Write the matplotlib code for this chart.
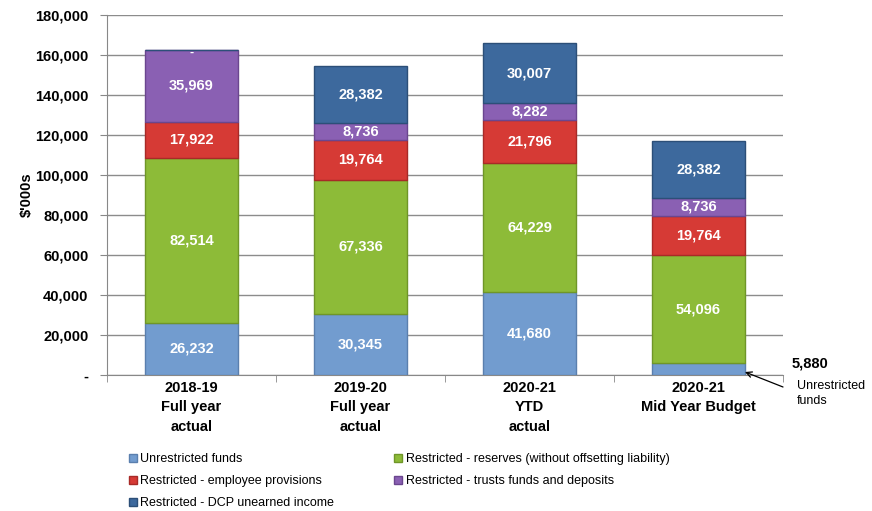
import matplotlib
matplotlib.use("Agg")
import matplotlib.pyplot as plt
import numpy as np

plt.rcParams['font.family'] = ['Liberation Sans', 'DejaVu Sans']

categories = ["2018-19\nFull year\nactual", "2019-20\nFull year\nactual",
              "2020-21\nYTD\nactual", "2020-21\nMid Year Budget"]
unrestricted = [26232, 30345, 41680, 5880]
reserves = [82514, 67336, 64229, 54096]
employee = [17922, 19764, 21796, 19764]
trusts = [35969, 8736, 8282, 8736]
dcp = [0, 28382, 30007, 28382]

series_names = ["Unrestricted funds",
                "Restricted - reserves (without offsetting liability)",
                "Restricted - employee provisions",
                "Restricted - trusts funds and deposits",
                "Restricted - DCP unearned income"]
series = [unrestricted, reserves, employee, trusts, dcp]
colors = ["#729CCF", "#8DBB38", "#D63A35", "#8A60B3", "#3D699D"]
edges = ["#5A7FAE", "#6F9628", "#A82A27", "#6B468F", "#2C4F78"]

fig = plt.figure(figsize=(8.72, 5.11), dpi=100)
ax = fig.add_axes([107/872, 1-375/511, 676/872, 360/511])

x = np.arange(len(categories))
bottom = np.zeros(len(categories))
handles = []
for si, (vals, c, ec, name) in enumerate(zip(series, colors, edges, series_names)):
    vals = np.array(vals, dtype=float)
    b = ax.bar(x, vals, width=0.545, bottom=bottom, color=c, edgecolor=ec,
               linewidth=1.0, label=name, zorder=3)
    handles.append(b)
    for i, v in enumerate(vals):
        if si == 0 and i == 3:
            continue
        yc = bottom[i] + v / 2
        if v == 0:
            ax.text(x[i], bottom[i] - 1500, "-", ha="center", va="center",
                    color="white", fontsize=9, fontweight="bold", zorder=5)
        else:
            ax.text(x[i], yc, f"{int(v):,}", ha="center", va="center",
                    color="white", fontsize=10.5, fontweight="bold", zorder=5)
    bottom += vals

ax.set_xlim(-0.5, len(categories) - 0.5)
ax.set_ylim(0, 180000)
yt = np.arange(0, 180001, 20000)
ax.set_yticks(yt)
ax.set_yticklabels(["-"] + [f"{v:,}" for v in yt[1:]], fontsize=10.5, fontweight="bold")
ax.set_xticks(x)
ax.set_xticklabels(categories, fontsize=10.5, fontweight="bold", linespacing=1.5)
ax.set_xticks(np.arange(-0.5, len(categories)), minor=True)
ax.tick_params(axis="x", which="major", length=0, pad=4)
ax.tick_params(axis="x", which="minor", length=5, color="#888888")
ax.tick_params(axis="y", length=5, color="#888888", pad=8.5)
ax.yaxis.grid(True, color="#8C8C8C", linewidth=1.0, zorder=0)
ax.set_axisbelow(True)
for s in ["top", "right"]:
    ax.spines[s].set_visible(False)
ax.spines["left"].set_color("#888888")
ax.spines["bottom"].set_color("#888888")
ax.set_ylabel("$'000s", fontsize=10.5, fontweight="bold", labelpad=1)

# Annotation for small unrestricted segment
ax.annotate("", xy=(3.275, 1500), xytext=(3.5, -6000),
            arrowprops=dict(arrowstyle="->", color="black", lw=0.9,
                            shrinkA=0, shrinkB=0),
            annotation_clip=False)
ax.text(3.553, 6000, f"{unrestricted[3]:,}", fontsize=10.5, fontweight="bold",
        ha="left", va="center")
ax.text(3.583, -9250, "Unrestricted\nfunds", fontsize=9, ha="left", va="center",
        linespacing=1.36)

order = [0, 2, 4, 1, 3]
leg = fig.legend([handles[i] for i in order], [series_names[i] for i in order],
                 ncol=2, loc="upper left", bbox_to_anchor=(118/872, 1-442/511),
                 frameon=False, fontsize=9, handlelength=0.6, handleheight=0.6,
                 handletextpad=0.3, labelspacing=0.8, columnspacing=4.8)

fig.savefig("out.png", dpi=100)
